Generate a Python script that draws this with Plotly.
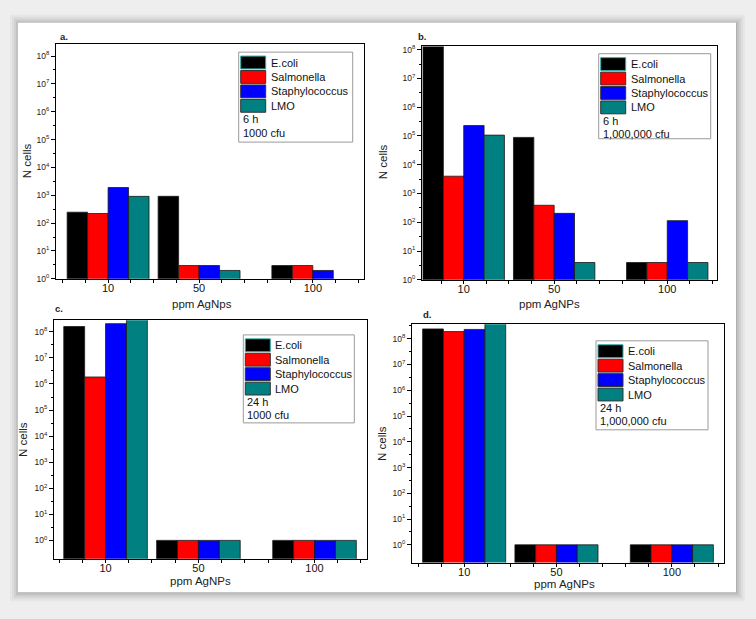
import plotly.graph_objects as go

W, H = 756, 619
FONT = "Arial, Liberation Sans, sans-serif"

# ---------------- data ----------------
ppm = [10, 50, 100]
x_tick_labels = ["10", "50", "100"]
series_names = ["E.coli", "Salmonella", "Staphylococcus", "LMO"]
series_colors = ["#000000", "#ff0000", "#0000ff", "#008080"]

# a. 6 h, 1000 cfu
a_ecoli = [247, 920, 3]
a_salmonella = [222, 3, 3]
a_staph = [1900, 3, 2]
a_lmo = [915, 2, None]

# b. 6 h, 1,000,000 cfu
b_ecoli = [1.5e8, 8.9e4, 4]
b_salmonella = [4000, 390, 4]
b_staph = [2.3e5, 204, 114]
b_lmo = [1.07e5, 4, 4]

# c. 24 h, 1000 cfu
c_ecoli = [1.6e8, 1, 1]
c_salmonella = [1.85e6, 1, 1]
c_staph = [2.06e8, 1, 1]
c_lmo = [3.0e8, 1, 1]

# d. 24 h, 1,000,000 cfu
d_ecoli = [2.4e8, 1, 1]
d_salmonella = [1.9e8, 1, 1]
d_staph = [2.3e8, 1, 1]
d_lmo = [4.0e8, 1, 1]

y_tick_values = [10 ** k for k in range(0, 9)]
y_tick_labels = ["10<sup>%d</sup>" % k for k in range(0, 9)]
x_minor_ticks = list(range(-10, 130, 10))

panels = [
    dict(label="a.", xtitle="ppm AgNps", time="6 h", cfu="1000 cfu",
         series=[a_ecoli, a_salmonella, a_staph, a_lmo],
         dom=(56, 364, 42, 280), xr=(-12.9, 122.5), yr=(0, 8.45),
         lab=(58, 35), xt=(202, 305), yt=(27, 161), box=(238.7, 50.7, 114, 91)),
    dict(label="b.", xtitle="ppm AgNPs", time="6 h", cfu="1,000,000 cfu",
         series=[b_ecoli, b_salmonella, b_staph, b_lmo],
         dom=(422, 717, 45, 281), xr=(-8.45, 122), yr=(0, 8.11),
         lab=(416, 35), xt=(549, 305), yt=(383, 162), box=(598.7, 52.3, 112, 86)),
    dict(label="c.", xtitle="ppm AgNPs", time="24 h", cfu="1000 cfu",
         series=[c_ecoli, c_salmonella, c_staph, c_lmo],
         dom=(54, 367, 322, 563), xr=(-12.2, 122.6), yr=(-0.70, 8.44),
         lab=(53, 310), xt=(200, 586), yt=(23, 443), box=(243.3, 336.7, 111, 89)),
    dict(label="d.", xtitle="ppm AgNPs", time="24 h", cfu="1,000,000 cfu",
         series=[d_ecoli, d_salmonella, d_staph, d_lmo],
         dom=(412, 724, 326, 567), xr=(-12.6, 122.6), yr=(-0.69, 8.56),
         lab=(421, 316), xt=(564, 589), yt=(382, 447), box=(596, 342.7, 112, 90)),
]


def px(x):
    return x / W


def py(y):
    return 1 - y / H


fig = go.Figure()
layout = dict(
    width=W, height=H, autosize=False,
    margin=dict(l=0, r=0, t=0, b=0),
    paper_bgcolor="#eeeeee", plot_bgcolor="rgba(0,0,0,0)",
    barmode="group", bargap=0.1, bargroupgap=0,
    showlegend=False,
    font=dict(family=FONT, color="black"),
)
shapes = []
annotations = []

# card with soft shadow
for i, a in enumerate([0.03, 0.04, 0.05, 0.07, 0.09]):
    d = 9 - 2 * i
    shapes.append(dict(type="rect", xref="paper", yref="paper", layer="below",
                       x0=px(18 - d + 1), x1=px(736 + d), y0=py(597 + d), y1=py(21 - d + 1),
                       fillcolor="rgba(0,0,0,%g)" % a, line=dict(width=0)))
shapes.append(dict(type="rect", xref="paper", yref="paper", layer="below",
                   x0=px(18), x1=px(736), y0=py(597), y1=py(21),
                   fillcolor="white", line=dict(width=0)))

for k, p in enumerate(panels, start=1):
    xs = "" if k == 1 else str(k)
    x0, x1, y0, y1 = p["dom"]
    for name, color, vals in zip(series_names, series_colors, p["series"]):
        fig.add_trace(go.Bar(
            x=ppm, y=vals, name=name, marker_color=color,
            marker_line=dict(color="#1a1a1a", width=0.8),
            xaxis="x" + xs, yaxis="y" + xs,
        ))
    layout["xaxis" + xs] = dict(
        domain=[px(x0), px(x1)], anchor="y" + xs, range=list(p["xr"]),
        showline=True, linecolor="black", linewidth=1.2, mirror=True,
        tickmode="array", tickvals=ppm, ticktext=x_tick_labels,
        ticks="outside", ticklen=3, tickcolor="black", showgrid=False, zeroline=False,
        ticklabelstandoff=-4,
        tickfont=dict(size=11, family=FONT, color="#111"),
        minor=dict(tickvals=x_minor_ticks, ticks="outside", ticklen=3, tickcolor="black", showgrid=False),
    )
    layout["yaxis" + xs] = dict(
        domain=[py(y1), py(y0)], anchor="x" + xs, type="log", range=list(p["yr"]),
        showline=True, linecolor="black", linewidth=1.2, mirror=True,
        tickmode="array", tickvals=y_tick_values, ticktext=y_tick_labels,
        ticks="outside", ticklen=4, tickcolor="black", showgrid=False, zeroline=False,
        tickfont=dict(size=8.5, family=FONT, color="#222"),
        minor=dict(tickvals=[3.16 * v for v in y_tick_values], ticks="outside", ticklen=2,
                   tickcolor="black", showgrid=False),
    )
    # top / right inside ticks
    layout["xaxis%d" % (k + 4)] = dict(
        overlaying="x" + xs, anchor="y" + xs, side="top", range=list(p["xr"]),
        tickmode="array", tickvals=x_minor_ticks, ticks="inside", ticklen=4,
        tickcolor="black", showticklabels=False, showgrid=False, zeroline=False, showline=False,
    )
    layout["yaxis%d" % (k + 4)] = dict(
        overlaying="y" + xs, anchor="x" + xs, side="right", type="log", range=list(p["yr"]),
        tickmode="array", tickvals=y_tick_values, ticks="inside", ticklen=4,
        tickcolor="black", showticklabels=False, showgrid=False, zeroline=False, showline=False,
    )

    # panel letter and axis titles
    annotations.append(dict(text="<b>%s</b>" % p["label"], x=px(p["lab"][0]), y=py(p["lab"][1]),
                            xref="paper", yref="paper", xanchor="left", yanchor="middle",
                            showarrow=False, font=dict(size=9.5, family=FONT, color="#222")))
    annotations.append(dict(text=p["xtitle"], x=px(p["xt"][0]), y=py(p["xt"][1]),
                            xref="paper", yref="paper", xanchor="center", yanchor="middle",
                            showarrow=False, font=dict(size=11.5, family=FONT, color="#222")))
    annotations.append(dict(text="N cells", x=px(p["yt"][0]), y=py(p["yt"][1]), textangle=-90,
                            xref="paper", yref="paper", xanchor="center", yanchor="middle",
                            showarrow=False, font=dict(size=11.5, family=FONT, color="#222")))

    # legend box
    bx, by, bw, bh = p["box"]
    shapes.append(dict(type="rect", xref="paper", yref="paper",
                       x0=px(bx), x1=px(bx + bw), y0=py(by + bh), y1=py(by),
                       fillcolor="white", line=dict(color="#9a9a9a", width=1)))
    for i, (name, color) in enumerate(zip(series_names, series_colors)):
        sy = by + 4 + 14.6 * i
        shapes.append(dict(type="rect", xref="paper", yref="paper",
                           x0=px(bx + 2), x1=px(bx + 27), y0=py(sy + 13), y1=py(sy),
                           fillcolor=color,
                           line=dict(color="#33aaaa" if i == 0 else "#333333", width=1)))
        annotations.append(dict(text=name, x=px(bx + 30), y=py(sy + 6.5),
                                xref="paper", yref="paper", xanchor="left", yanchor="middle",
                                showarrow=False, font=dict(size=11, family=FONT, color="#111")))
    for j, t in enumerate([p["time"], p["cfu"]]):
        annotations.append(dict(text=t, x=px(bx + 2), y=py(by + 68 + 13.5 * j),
                                xref="paper", yref="paper", xanchor="left", yanchor="middle",
                                showarrow=False, font=dict(size=11, family=FONT, color="#111")))

layout["shapes"] = shapes
layout["annotations"] = annotations
fig.update_layout(**layout)
fig.write_html("out.html")
